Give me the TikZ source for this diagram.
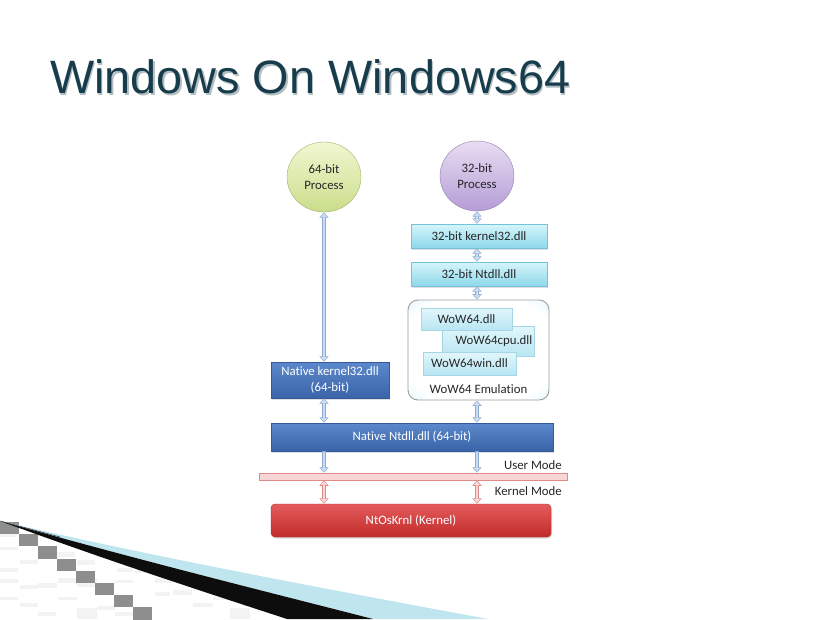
\documentclass[tikz,border=0pt]{standalone}
\usepackage{fontspec}
\setmainfont{Carlito}[Ligatures={NoCommon}]
\newfontfamily\titlefont{Liberation Sans}
\usetikzlibrary{arrows.meta,shapes.geometric,shadows,calc}
\definecolor{titlecol}{HTML}{173C4C}
\definecolor{titleshadow}{HTML}{B4BEC2}
\definecolor{arrB}{HTML}{8EAAD4}
\definecolor{arrBf}{HTML}{CCDCF0}
\definecolor{arrR}{HTML}{E08A8A}
\definecolor{arrRf}{HTML}{F9D6D6}
\definecolor{blueTop}{HTML}{5C89CC}
\definecolor{blueBot}{HTML}{3A63A8}
\definecolor{blueEdge}{HTML}{35599A}
\definecolor{cyTop}{HTML}{D6F5FB}
\definecolor{cyBot}{HTML}{8ED8EA}
\definecolor{cyEdge}{HTML}{74C2DA}
\definecolor{dllTop}{HTML}{E2F6FB}
\definecolor{dllBot}{HTML}{B8E6F3}
\definecolor{dllEdge}{HTML}{A6D6E6}
\definecolor{redTop}{HTML}{E45C5C}
\definecolor{redBot}{HTML}{C22A2A}
\definecolor{redEdge}{HTML}{AE2626}
\definecolor{glowcol}{HTML}{BDEDF7}
\definecolor{greenTop}{HTML}{F1F7D2}
\definecolor{greenBot}{HTML}{CADD8A}
\definecolor{purpTop}{HTML}{E8DDF2}
\definecolor{purpBot}{HTML}{B59DD6}
\definecolor{txt}{HTML}{262626}
\definecolor{checkDark}{HTML}{8E8E8E}
\definecolor{checkLight}{HTML}{F3F3F3}
\definecolor{wedgeBlue}{HTML}{BFE6EE}
\pgfdeclareradialshading{glow}{\pgfpoint{0bp}{0bp}}{color(0bp)=(white); color(28bp)=(white); color(50bp)=(glowcol); color(75bp)=(glowcol)}
\tikzset{
  base/.style={inner sep=0pt, font=\fontsize{12.8}{16}\selectfont, align=center},
  proc/.style={base, ellipse, minimum width=74pt, minimum height=70pt, text=txt, draw=#1!80!black, line width=0.4pt},
  bluebox/.style={base, rectangle, top color=blueTop, bottom color=blueBot, draw=blueEdge, line width=0.4pt, text=white,
    drop shadow={shadow xshift=1pt, shadow yshift=-1.5pt, opacity=0.25}},
  cybox/.style={base, rectangle, minimum width=136pt, minimum height=24pt, top color=cyTop, bottom color=cyBot, draw=cyEdge, line width=0.4pt, text=txt,
    drop shadow={shadow xshift=1pt, shadow yshift=-1.5pt, opacity=0.25}},
  dllbox/.style={base, rectangle, top color=dllTop, bottom color=dllBot, draw=dllEdge, line width=0.4pt, text=txt,
    drop shadow={shadow xshift=1pt, shadow yshift=-1pt, opacity=0.2}},
  redbox/.style={base, rectangle, rounded corners=4pt, top color=redTop, bottom color=redBot, draw=redEdge, line width=0.4pt, text=white,
    drop shadow={shadow xshift=1pt, shadow yshift=-1.5pt, opacity=0.3}},
  lbl/.style={base, text=txt},
  bedge/.style={draw=arrB, line width=4.6pt},
  bfill/.style={draw=arrBf, line width=2.6pt, shorten <=0.9pt, shorten >=0.9pt},
  redge/.style={draw=arrR, line width=4.6pt},
  rfill/.style={draw=arrRf, line width=2.6pt, shorten <=0.9pt, shorten >=0.9pt},
  otwo/.style={{Triangle[width=9pt,length=5.5pt]}-{Triangle[width=9pt,length=5.5pt]}},
  itwo/.style={{Triangle[width=6.2pt,length=3.8pt]}-{Triangle[width=6.2pt,length=3.8pt]}},
  oone/.style={-{Triangle[width=9pt,length=5.5pt]}},
  ione/.style={-{Triangle[width=6.2pt,length=3.8pt]}},
}
\newcommand\bluedbl[2]{\draw[bedge,otwo] #1 -- #2; \draw[bfill,itwo] #1 -- #2;}
\newcommand\blueone[2]{\draw[bedge,oone] #1 -- #2; \draw[bfill,ione] #1 -- #2;}
\newcommand\reddbl[2]{\draw[redge,otwo] #1 -- #2; \draw[rfill,itwo] #1 -- #2;}
\begin{document}
\begin{tikzpicture}[x=1pt,y=-1pt]
\useasboundingbox (0,0) rectangle (825,619);
\fill[white] (0,0) rectangle (825,619);

% bottom-left decoration
\foreach \px/\py/\w/\h in {0/547/18/3,20/560/18/4,57/552/18/5,77/560/18/5,97/553/18/5,0/568/18/4,0/579/18/4,20/585/18/4,38/583/19/5,58/578/19/5,77/578/20/9,115/580/18/3,117/568/16/4,135/570/18/3,155/578/17/5,0/597/18/3,20/603/18/4,58/597/19/3,77/608/20/11,97/606/18/4,173/590/19/5,193/603/20/4,213/597/17/3,230/608/20/11,155/592/15/4,0/533/17/4,38/612/18/4,115/612/18/4}
  \fill[checkLight] (\px,\py) rectangle ++(\w,\h);
\foreach \i in {0,...,7}
  \fill[checkDark] (19*\i,522+12.2*\i) rectangle ++(19,12.2);
\fill[wedgeBlue] (0,521) .. controls (120,549) and (250,575) .. (488,619) -- (373,619) .. controls (260,590) and (150,563) .. (0,521) -- cycle;
\fill[black!95] (0,521) .. controls (150,563) and (260,590) .. (373,619) -- (287,619) .. controls (220,597) and (120,565) .. (0,521) -- cycle;
\draw[black!80!cyan, line width=0.6pt] (0,521) -- (60,537);

% title
\node[anchor=base west, inner sep=0pt, text=titleshadow, font=\titlefont\fontsize{46.8}{50}\selectfont] at (51.5,95) {Windows On Windows64};
\node (title) [anchor=base west, inner sep=0pt, text=titlecol, font=\titlefont\fontsize{46.8}{50}\selectfont] at (50,93.5) {Windows On Windows64};

% processes
\node (p64) [proc=greenBot, top color=greenTop, bottom color=greenBot] at (324,177) {64-bit\\Process};
\node (p32) [proc=purpBot, top color=purpTop, bottom color=purpBot] at (477,176) {32-bit\\Process};

% 32-bit chain
\node (k32) [cybox] at (479,236) {32-bit kernel32.dll};
\node (n32) [cybox] at (479,274) {32-bit Ntdll.dll};

% WoW64 emulation
\node (wow) [rectangle, rounded corners=10pt, minimum width=141pt, minimum height=100pt, draw=black!38, line width=0.9pt, shading=glow, inner sep=0pt] at (478.5,350) {};
\node (dll2) [dllbox, minimum width=92pt, minimum height=30pt] at (488,341) {\hspace*{12pt}WoW64cpu.dll};
\node (dll1) [dllbox, minimum width=91pt, minimum height=22pt] at (466.5,319) {WoW64.dll};
\node (dll3) [dllbox, minimum width=93pt, minimum height=23pt] at (469.5,363.5) {WoW64win.dll};
\node (wowlbl) [lbl] at (478.5,389) {WoW64 Emulation};

% native
\node (nk32) [bluebox, minimum width=118pt, minimum height=36pt] at (330,380) {Native kernel32.dll\\(64-bit)};
\node (nnt) [bluebox, minimum width=282pt, minimum height=28pt] at (412,437) {Native Ntdll.dll (64-bit)};

% mode bar
\node (bar) [rectangle, minimum width=308pt, minimum height=7pt, inner sep=0pt, fill=arrRf, draw=arrR, line width=0.5pt] at (413,476.5) {};
\node (um) [lbl, anchor=east] at (562,465) {User Mode};
\node (km) [lbl, anchor=east] at (562,491.5) {Kernel Mode};

% kernel
\node (krn) [redbox, minimum width=280pt, minimum height=33pt] at (411,520.5) {NtOsKrnl (Kernel)};

% connectors
\bluedbl{(p64.south)}{(p64.south |- nk32.north)}
\bluedbl{(p32.south)}{(p32.south |- k32.north)}
\bluedbl{(p32.south |- k32.south)}{(p32.south |- n32.north)}
\bluedbl{(p32.south |- n32.south)}{(p32.south |- wow.north)}
\bluedbl{(p32.south |- wow.south)}{(p32.south |- nnt.north)}
\bluedbl{(p64.south |- nk32.south)}{(p64.south |- nnt.north)}
\blueone{(p64.south |- nnt.south)}{(p64.south |- bar.north)}
\blueone{(p32.south |- nnt.south)}{(p32.south |- bar.north)}
\reddbl{(p64.south |- bar.south)}{(p64.south |- krn.north)}
\reddbl{(p32.south |- bar.south)}{(p32.south |- krn.north)}
\end{tikzpicture}
\end{document}
